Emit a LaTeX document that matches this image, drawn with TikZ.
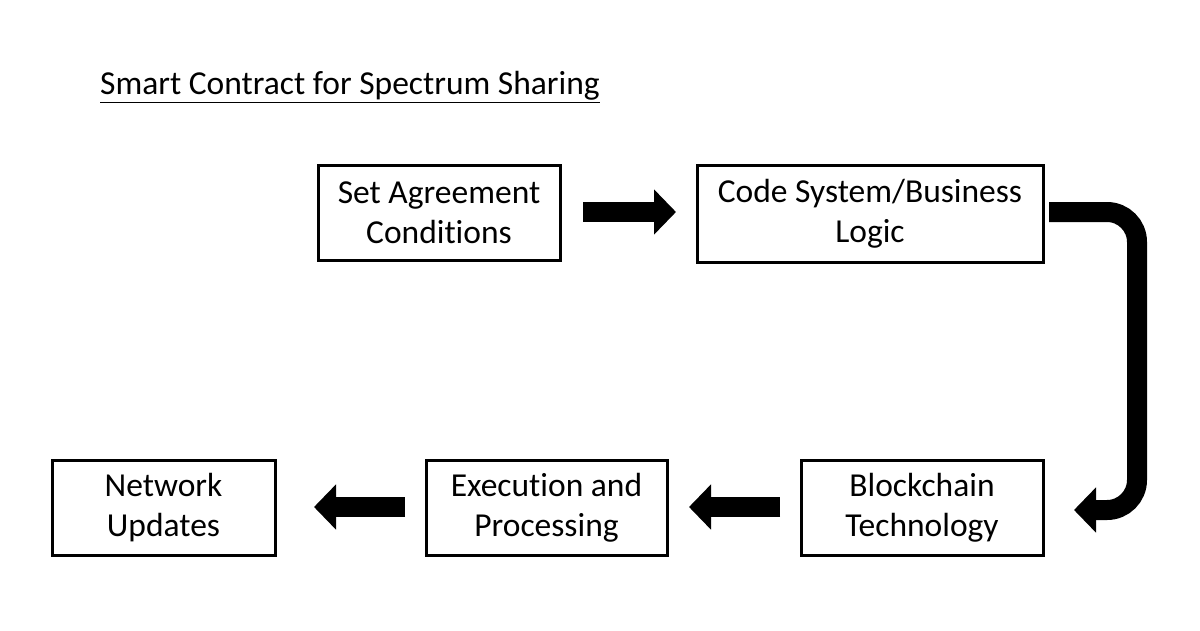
\documentclass[tikz,border=0pt]{standalone}
\usepackage{fontspec}
\setmainfont[RawFeature=-liga]{Carlito}
\usetikzlibrary{arrows.meta}
\begin{document}
\begin{tikzpicture}[x=1pt,y=-1pt,
  box/.style={draw,line width=3pt,align=center,font=\fontsize{33.5}{40}\selectfont,inner sep=0pt},
  fat/.style={line width=20pt,-{Triangle[length=22pt,width=44pt]}}]
\useasboundingbox (0,0) rectangle (1200,630);
\node[anchor=west,font=\fontsize{33.5}{40}\selectfont,inner sep=0pt] (title) at (100,87) {\underline{Smart Contract for Spectrum Sharing}};
\node[box,minimum width=242pt,minimum height=95pt] (set) at (439,212.5) {Set Agreement\\Conditions};
\node[box,minimum width=346pt,minimum height=97pt] (code) at (870,213.5) {Code System/Business\\Logic};
\node[box,minimum width=223pt,minimum height=95pt] (net) at (163.5,507.5) {Network\\Updates};
\node[box,minimum width=241pt,minimum height=95pt] (exe) at (546.5,507.5) {Execution and\\Processing};
\node[box,minimum width=242pt,minimum height=95pt] (blk) at (922,507.5) {Blockchain\\Technology};
\coordinate (a1s) at (583,212); \coordinate (a1e) at (676,212);
\coordinate (a2s) at (780,507); \coordinate (a2e) at (689,507);
\coordinate (a3s) at (405,507); \coordinate (a3e) at (314,507);
\draw[fat] (a1s) -- (a1e);
\draw[fat] (a2s) -- (a2e);
\draw[fat] (a3s) -- (a3e);
\coordinate (cs) at (1049,212); \coordinate (ce) at (1074,510);
\draw[fat,rounded corners=30pt] (cs) -- (1137,212) -- (1137,510) -- (ce);
\end{tikzpicture}
\end{document}
